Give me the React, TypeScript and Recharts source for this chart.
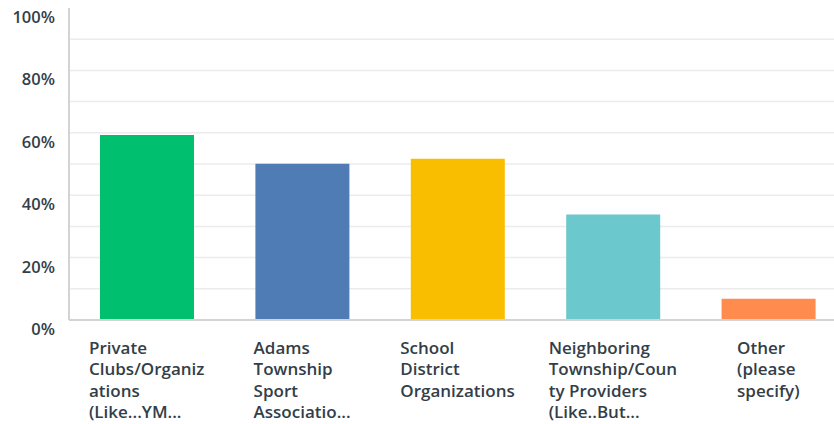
import { BarChart, Bar, XAxis, YAxis, CartesianGrid, Cell } from "recharts";

const categories = [
  "Private\nClubs/Organiz\nations\n(Like...YM...",
  "Adams\nTownship\nSport\nAssociatio...",
  "School\nDistrict\nOrganizations",
  "Neighboring\nTownship/Coun\nty Providers\n(Like..But...",
  "Other\n(please\nspecify)",
];
const values = [59.3, 50.1, 51.7, 33.8, 6.8];
const colors = ["#00BF6F", "#507CB6", "#F9BE00", "#6BC8CD", "#FF8B4F"];
const yTicks = [0, 10, 20, 30, 40, 50, 60, 70, 80, 90, 100];

const data = categories.map((name, i) => ({ name, value: values[i] }));

const FONT = "'Open Sans', sans-serif";
const TEXT = "#333e48";

let ctx: CanvasRenderingContext2D | null = null;
const measure = (s: string) => {
  if (!ctx) ctx = document.createElement("canvas").getContext("2d");
  if (!ctx) return s.length * 9;
  ctx.font = `600 17px ${FONT}`;
  return ctx.measureText(s).width;
};

const XTick = (props: any) => {
  const { x, y, payload } = props;
  const lines: string[] = String(payload.value).split("\n");
  const w = Math.max(...lines.map(measure));
  return (
    <text x={x - w / 2} y={y} fill={TEXT} fontSize={17} fontWeight={600} fontFamily={FONT}>
      {lines.map((l, i) => (
        <tspan key={i} x={x - w / 2} y={y + 26 + i * 21.3}>
          {l}
        </tspan>
      ))}
    </text>
  );
};

const YTick = (props: any) => {
  const { x, y, payload } = props;
  if (payload.value % 20 !== 0) return null;
  return (
    <text x={x} y={y + 15} textAnchor="end" fill={TEXT} fontSize={16.5} fontWeight={600} fontFamily={FONT}>
      {payload.value}%
    </text>
  );
};

// grid at every 10%, but no line at the very top or bottom
const GridLine = (p: any) => {
  if (p.index === 0 || p.index === yTicks.length - 1) return null;
  return <line x1={p.x1} y1={p.y1} x2={p.x2} y2={p.y2} stroke="#ececec" strokeWidth={1.5} />;
};

export default function App() {
  return (
    <div style={{ position: "absolute", left: 0, top: 0, width: 834, height: 424, overflow: "hidden", background: "#fff" }}>
      <BarChart width={846} height={424} data={data} margin={{ top: 8, right: 0, bottom: 0, left: 0 }}>
        <CartesianGrid vertical={false} horizontal={GridLine} />
        <XAxis
          dataKey="name"
          height={104}
          interval={0}
          tickLine={false}
          axisLine={{ stroke: "#d3d3d3", strokeWidth: 2 }}
          tick={<XTick />}
        />
        <YAxis
          width={69}
          domain={[0, 100]}
          ticks={yTicks}
          interval={0}
          tickLine={false}
          tickSize={0}
          tickMargin={14}
          axisLine={{ stroke: "#d3d3d3", strokeWidth: 2 }}
          tick={<YTick />}
        />
        <Bar dataKey="value" barSize={94} isAnimationActive={false}>
          {data.map((_, i) => (
            <Cell key={i} fill={colors[i]} />
          ))}
        </Bar>
      </BarChart>
    </div>
  );
}
